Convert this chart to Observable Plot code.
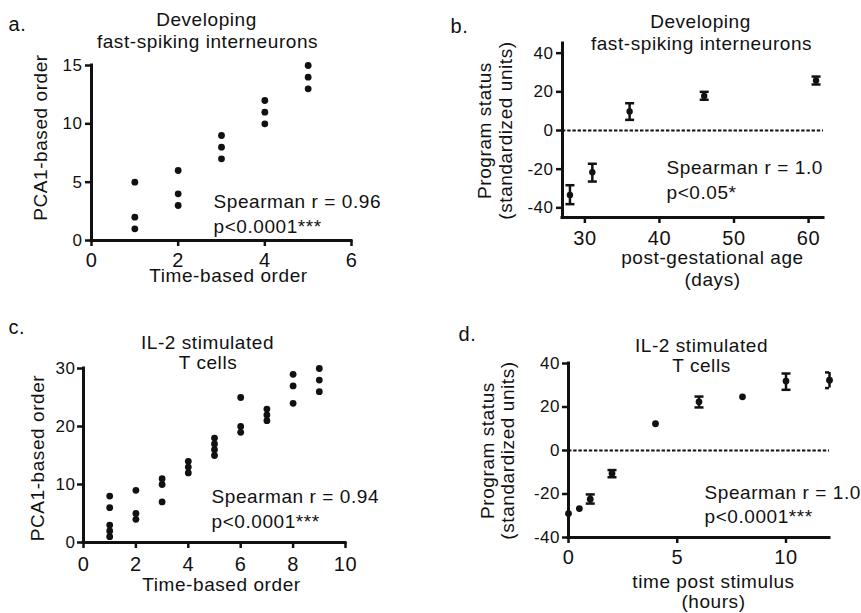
<!DOCTYPE html>
<html>
<head>
<meta charset="utf-8">
<script src="https://cdn.jsdelivr.net/npm/d3@7"></script>
<script src="https://cdn.jsdelivr.net/npm/@observablehq/plot@0.6"></script>
<style>
  html, body { margin: 0; padding: 0; background: #fff; }
  #fig { position: relative; width: 861px; height: 613px; background: #fff; overflow: hidden; }
  #fig svg { position: absolute; }
  #fig svg text { letter-spacing: 0.03em; }
</style>
</head>
<body>
<div id="fig"></div>
<script>
// ---------- Panel a: developing fast-spiking interneurons ----------
const aTime = [1, 1, 1, 2, 2, 2, 3, 3, 3, 4, 4, 4, 5, 5, 5];
const aPCA  = [5, 2, 1, 6, 4, 3, 9, 8, 7, 12, 11, 10, 15, 14, 13];
const aXTicks = [0, 2, 4, 6];
const aYTicks = [0, 5, 10, 15];

// ---------- Panel b: program status vs post-gestational age ----------
const bAge  = [28, 31, 36, 46, 61];
const bMean = [-33.3, -21.6, 9.8, 17.9, 25.9];
const bLow  = [-38.1, -26.4, 5.5, 15.9, 23.8];
const bHigh = [-28.3, -17.2, 14.1, 20.0, 27.9];
const bXTicks = [30, 40, 50, 60];
const bYTicks = [-40, -20, 0, 20, 40];

// ---------- Panel c: IL-2 stimulated T cells ----------
const cTime = [1, 1, 1, 1, 1, 2, 2, 2, 3, 3, 3, 4, 4, 4, 5, 5, 5, 5, 6, 6, 6, 7, 7, 7, 8, 8, 8, 9, 9, 9];
const cPCA  = [8, 6, 3, 2, 1, 9, 5, 4, 11, 10, 7, 14, 13, 12, 18, 17, 16, 15, 25, 20, 19, 23, 22, 21, 29, 27, 24, 30, 28, 26];
const cXTicks = [0, 2, 4, 6, 8, 10];
const cYTicks = [0, 10, 20, 30];

// ---------- Panel d: program status vs time post stimulus ----------
const dHours = [0, 0.5, 1, 2, 4, 6, 8, 10, 12];
const dMean  = [-29.0, -26.7, -22.4, -10.6, 12.3, 22.4, 24.7, 31.9, 32.3];
const dLow   = [null, null, -24.4, -12.3, null, 19.8, null, 27.9, 28.7];
const dHigh  = [null, null, -20.2, -9.0, null, 24.8, null, 35.4, 35.9];
const dXTicks = [0, 5, 10];
const dYTicks = [-40, -20, 0, 20, 40];

// ---------- helpers ----------
const FONT = "'Liberation Sans', Arial, Helvetica, sans-serif";
const INK = "#111";
const capSymbol = {
  draw(context, size) {
    const r = Math.sqrt(size / Math.PI);
    context.moveTo(-r, 0);
    context.lineTo(r, 0);
  }
};

function panel(cfg) {
  const m = cfg.m;
  const T = (s, x, y, o = {}) => Plot.text([s], {
    text: d => d,
    frameAnchor: "top-left",
    dx: x - m.l,
    dy: y - m.t,
    textAnchor: o.anchor ?? "start",
    lineAnchor: o.line ?? "bottom",
    rotate: o.rotate ?? 0,
    fontSize: o.size ?? 19,
    fill: INK
  });
  const marks = [
    cfg.zeroLine ? Plot.ruleY([0], {stroke: INK, strokeWidth: 2, strokeDasharray: "3.4,1.8"}) : null,
    ...cfg.marks,
    Plot.axisY(cfg.yTicks, {tickSize: 6, tickPadding: cfg.yPad, fontSize: 17, strokeWidth: 2.5, stroke: INK, fill: INK, tickFormat: d => String(d), label: null}),
    Plot.axisX(cfg.xTicks, {tickSize: 6, tickPadding: cfg.xPad, fontSize: 20, strokeWidth: 2.5, stroke: INK, fill: INK, tickFormat: d => String(d), label: null}),
    Plot.ruleX([cfg.xDomain[0]], {stroke: INK, strokeWidth: 3, strokeLinecap: "square"}),
    Plot.ruleY([cfg.yDomain[0]], {stroke: INK, strokeWidth: 3, strokeLinecap: "square"}),
    ...cfg.texts.map(t => T(...t))
  ];
  const svg = Plot.plot({
    width: cfg.width,
    height: cfg.height,
    marginLeft: m.l, marginRight: m.r, marginTop: m.t, marginBottom: m.b,
    x: {domain: cfg.xDomain},
    y: {domain: cfg.yDomain},
    style: {fontFamily: FONT, color: INK, background: "transparent", overflow: "visible"},
    marks
  });
  svg.style.left = cfg.left + "px";
  svg.style.top = cfg.top + "px";
  document.getElementById("fig").appendChild(svg);
}

const errMarks = (data, r) => [
  Plot.ruleX(data.filter(d => d.lo != null), {x: "x", y1: "lo", y2: "hi", stroke: INK, strokeWidth: 2.5}),
  Plot.dot(data.filter(d => d.lo != null), {x: "x", y: "lo", symbol: capSymbol, r: 4.5, stroke: INK, fill: "none", strokeWidth: 2.5, clip: true}),
  Plot.dot(data.filter(d => d.hi != null), {x: "x", y: "hi", symbol: capSymbol, r: 4.5, stroke: INK, fill: "none", strokeWidth: 2.5, clip: true}),
  Plot.dot(data, {x: "x", y: "y", r, fill: INK, stroke: "none"})
];

const aData = aTime.map((t, i) => ({x: t, y: aPCA[i]}));
const bData = bAge.map((t, i) => ({x: t, y: bMean[i], lo: bLow[i], hi: bHigh[i]}));
const cData = cTime.map((t, i) => ({x: t, y: cPCA[i]}));
const dData = dHours.map((t, i) => ({x: t, y: dMean[i], lo: dLow[i], hi: dHigh[i]}));

// Panel a
panel({
  left: 0, top: 0, width: 430, height: 300,
  m: {l: 91, r: 79, t: 65, b: 60},
  xDomain: [0, 6], yDomain: [0, 15],
  xTicks: aXTicks, yTicks: aYTicks, xPad: 6, yPad: 3,
  marks: [Plot.dot(aData, {x: "x", y: "y", r: 3.4, fill: INK, stroke: "none"})],
  texts: [
    ["a.", 8, 30, {size: 20}],
    ["Developing", 206, 25, {anchor: "middle"}],
    ["fast-spiking interneurons", 207, 47, {anchor: "middle"}],
    ["Spearman r = 0.96", 213, 207],
    ["p<0.0001***", 213, 232],
    ["Time-based order", 228, 281, {anchor: "middle"}],
    ["PCA1-based order", 40, 137, {anchor: "middle", line: "middle", rotate: -90}]
  ]
});

// Panel b
panel({
  left: 430, top: 0, width: 431, height: 300,
  m: {l: 132, r: 38, t: 43, b: 83},
  xDomain: [27, 62], yDomain: [-45, 45],
  xTicks: bXTicks, yTicks: bYTicks, xPad: 7, yPad: 3,
  zeroLine: true,
  marks: errMarks(bData, 3.2),
  texts: [
    ["b.", 20, 32, {size: 20}],
    ["Developing", 270, 27.5, {anchor: "middle"}],
    ["fast-spiking interneurons", 271, 49.5, {anchor: "middle"}],
    ["Spearman r = 1.0", 236, 173.5],
    ["p<0.05*", 236, 198.5],
    ["post-gestational age", 282, 263, {anchor: "middle"}],
    ["(days)", 282, 285.5, {anchor: "middle"}],
    ["Program status", 54, 130, {anchor: "middle", line: "middle", rotate: -90}],
    ["(standardized units)", 75, 130, {anchor: "middle", line: "middle", rotate: -90}]
  ]
});

// Panel c
panel({
  left: 0, top: 300, width: 430, height: 313,
  m: {l: 83, r: 85, t: 68, b: 71},
  xDomain: [0, 10], yDomain: [0, 30],
  xTicks: cXTicks, yTicks: cYTicks, xPad: 8, yPad: 2,
  marks: [Plot.dot(cData, {x: "x", y: "y", r: 3.4, fill: INK, stroke: "none"})],
  texts: [
    ["c.", 8, 33, {size: 20}],
    ["IL-2 stimulated", 207, 48.5, {anchor: "middle"}],
    ["T cells", 207.5, 68.5, {anchor: "middle"}],
    ["Spearman r = 0.94", 211, 202],
    ["p<0.0001***", 211, 227],
    ["Time-based order", 221, 290, {anchor: "middle"}],
    ["PCA1-based order", 37, 157.5, {anchor: "middle", line: "middle", rotate: -90}]
  ]
});

// Panel d
panel({
  left: 430, top: 300, width: 431, height: 313,
  m: {l: 138, r: 32, t: 63, b: 76},
  xDomain: [0, 12], yDomain: [-40, 40],
  xTicks: dXTicks, yTicks: dYTicks, xPad: 6.5, yPad: 2.5,
  zeroLine: true,
  marks: errMarks(dData, 3.4),
  texts: [
    ["d.", 28, 40, {size: 20}],
    ["IL-2 stimulated", 271, 51, {anchor: "middle"}],
    ["T cells", 271, 71, {anchor: "middle"}],
    ["Spearman r = 1.0", 274, 198],
    ["p<0.0001***", 274, 222],
    ["time post stimulus", 283, 287, {anchor: "middle"}],
    ["(hours)", 283, 307, {anchor: "middle"}],
    ["Program status", 57, 150, {anchor: "middle", line: "middle", rotate: -90}],
    ["(standardized units)", 77, 150, {anchor: "middle", line: "middle", rotate: -90}]
  ]
});
</script>
</body>
</html>
